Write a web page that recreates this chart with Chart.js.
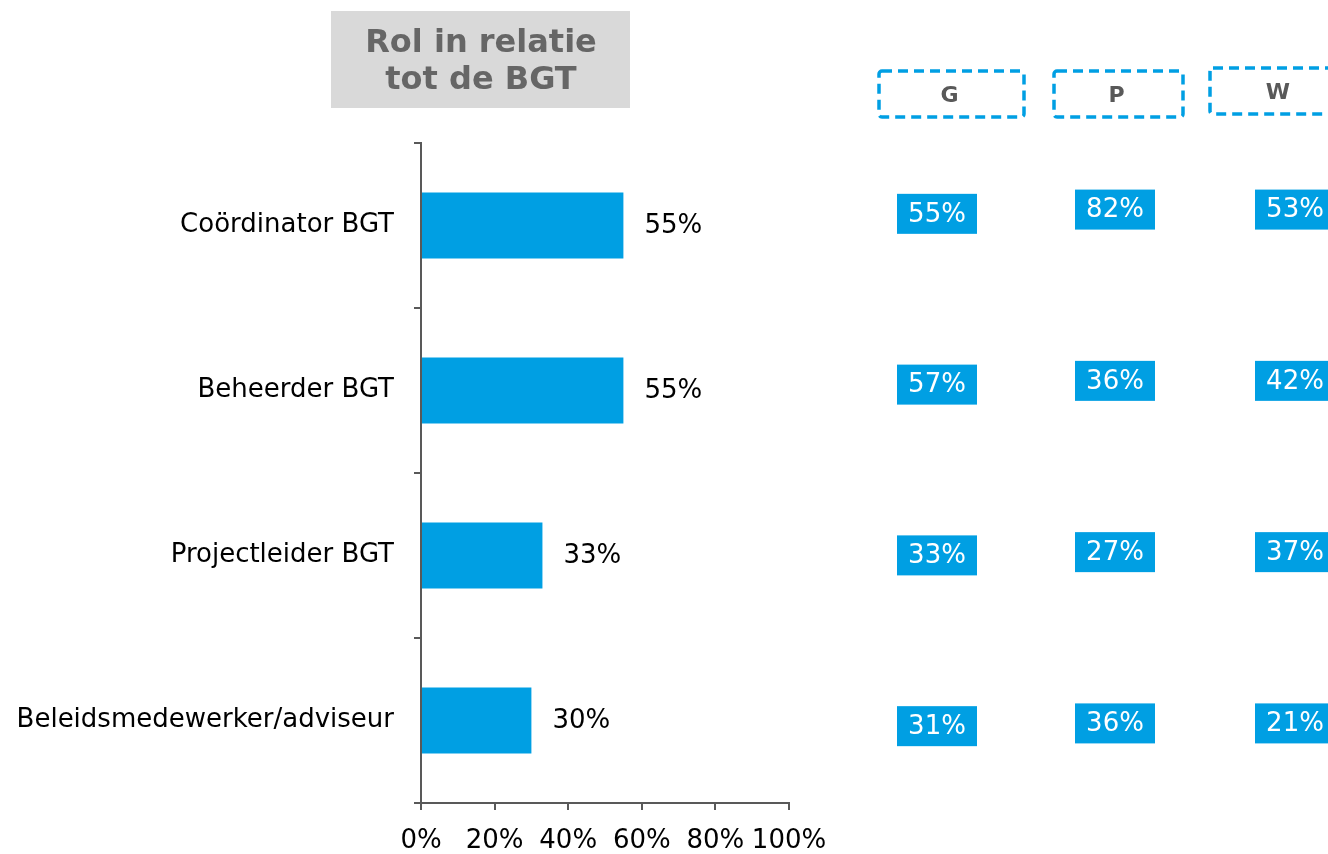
<!DOCTYPE html>
<html>
<head>
<meta charset="utf-8">
<script src="https://cdn.jsdelivr.net/npm/chart.js@4/dist/chart.umd.min.js"></script>
<style>
  html, body { margin: 0; padding: 0; background: #fff; }
  #wrap { width: 1328px; height: 854px; position: relative; }
</style>
</head>
<body>
<div id="wrap"><canvas id="chartRol"></canvas></div>
<script>
// data
var categories = ['Coördinator BGT', 'Beheerder BGT', 'Projectleider BGT', 'Beleidsmedewerker/adviseur'];
var totaal = [55, 55, 33, 30];
var groepen = ['G', 'P', 'W'];
var waardenG = [55, 57, 33, 31];
var waardenP = [82, 36, 27, 36];
var waardenW = [53, 42, 37, 21];
var xTicks = [0, 20, 40, 60, 80, 100];

var blauw = '#009FE3';
var font = "'DejaVu Sans', Verdana, sans-serif";

// columns on the right: dashed header box, x of value box, spread and shift
var kolommen = [
    { naam: groepen[0], waarden: waardenG, kopX: 879, kopW: 145, kopY: 71, boxX: 897, dy: -3, schaal: 1.035 },
    { naam: groepen[1], waarden: waardenP, kopX: 1054, kopW: 129, kopY: 71, boxX: 1075, dy: -6.5, schaal: 1.038 },
    { naam: groepen[2], waarden: waardenW, kopX: 1210, kopW: 140, kopY: 68, boxX: 1255, dy: -6.5, schaal: 1.038 }
];

var extraPlugin = {
    id: 'extra',
    afterDraw: function(chart) {
        var ctx = chart.ctx;
        var yScale = chart.scales.y;
        var area = chart.chartArea;
        ctx.save();

        // title box
        ctx.fillStyle = '#D9D9D9';
        ctx.fillRect(331, 11, 299, 97);
        ctx.fillStyle = '#666666';
        ctx.font = 'bold 32px ' + font;
        ctx.textAlign = 'center';
        ctx.textBaseline = 'middle';
        ctx.fillText('Rol in relatie', 481, 44);
        ctx.fillText('tot de BGT', 481, 81);

        // value labels next to bars
        var meta = chart.getDatasetMeta(0);
        ctx.font = '26px ' + font;
        ctx.fillStyle = '#000';
        ctx.textAlign = 'left';
        meta.data.forEach(function(bar, i) {
            ctx.fillText(totaal[i] + '%', bar.x + 21, bar.y + 1);
        });

        // right hand columns
        var mid = (area.top + area.bottom) / 2;
        kolommen.forEach(function(k) {
            ctx.strokeStyle = blauw;
            ctx.lineWidth = 3.5;
            ctx.setLineDash([10, 6]);
            ctx.beginPath();
            ctx.roundRect(k.kopX, k.kopY, k.kopW, 46, 3);
            ctx.stroke();
            ctx.setLineDash([]);
            ctx.fillStyle = '#595959';
            ctx.font = 'bold 22px ' + font;
            ctx.textAlign = 'center';
            ctx.fillText(k.naam, k.kopX + k.kopW / 2 - 2, k.kopY + 25);

            k.waarden.forEach(function(v, i) {
                var py = yScale.getPixelForValue(i);
                var y = mid + (py - mid) * k.schaal + k.dy;
                ctx.fillStyle = blauw;
                ctx.fillRect(k.boxX, y - 20, 80, 40);
                ctx.fillStyle = '#fff';
                ctx.font = '26px ' + font;
                ctx.textAlign = 'center';
                ctx.fillText(v + '%', k.boxX + 40, y + 1);
            });
        });
        ctx.restore();
    }
};

function chartRol() {
    var el = document.querySelector('#chartRol').getContext('2d');
    var chart = new Chart(el, {
        type: 'bar',
        data: {
            labels: categories,
            datasets: [{
                data: totaal,
                backgroundColor: blauw,
                borderWidth: 0,
                categoryPercentage: 0.4,
                barPercentage: 1
            }]
        },
        options: {
            indexAxis: 'y',
            responsive: true,
            maintainAspectRatio: false,
            animation: false,
            layout: { padding: { top: 143, right: 539, left: 0, bottom: 0 } },
            plugins: {
                legend: { display: false },
                tooltip: { enabled: false }
            },
            scales: {
                x: {
                    min: 0,
                    max: 100,
                    afterBuildTicks: function(scale) {
                        scale.ticks = xTicks.map(function(v) { return { value: v }; });
                    },
                    afterFit: function(scale) { scale.height = 51; },
                    grid: {
                        drawOnChartArea: false,
                        drawTicks: true,
                        tickLength: 7,
                        color: '#595959',
                        lineWidth: 2
                    },
                    border: { color: '#595959', width: 2 },
                    ticks: {
                        color: '#000',
                        font: { family: font, size: 26 },
                        padding: 16,
                        maxRotation: 0,
                        autoSkip: false,
                        callback: function(v) { return v + '%'; }
                    }
                },
                y: {
                    offset: true,
                    afterFit: function(scale) { scale.width = 421; },
                    grid: {
                        offset: true,
                        drawOnChartArea: false,
                        drawTicks: true,
                        tickLength: 7,
                        color: '#595959',
                        lineWidth: 2
                    },
                    border: { color: '#595959', width: 2 },
                    ticks: {
                        color: '#000',
                        font: { family: font, size: 26 },
                        padding: 20
                    }
                }
            }
        },
        plugins: [extraPlugin]
    });
    return chart;
}
chartRol();
</script>
</body>
</html>
